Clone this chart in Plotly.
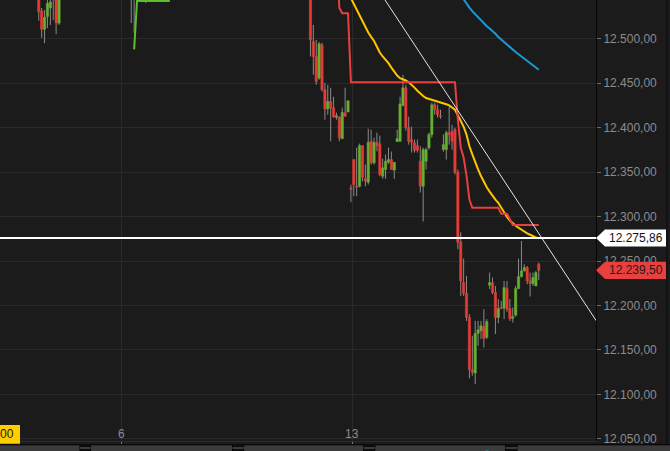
import plotly.graph_objects as go

# ---------------- data ----------------
bar_index = [13, 14, 15, 16, 17, 18, 19, 20, 45, 46, 50] + list(range(107, 187))

open_price = [
    12549.1, 12531.2, 12510.6, 12524.8, 12534.5, 12554.7, 12546.9, 12517.4,
    12565.0, 12560.0, 12550.0,
    12546.9, 12496.7, 12479.9, 12455.7, 12493.0, 12442.6, 12420.9, 12429.4, 12422.4, 12411.5,
    12411.9, 12387.6, 12416.8, 12417.6,
    12332.3, 12364.1, 12334.1, 12334.1, 12379.8, 12342.4, 12338.6, 12384.6, 12360.4, 12383.5,
    12381.7, 12345.3, 12352.9, 12361.0, 12364.1, 12352.1,
    12384.2, 12384.6, 12424.6, 12444.8, 12399.9, 12386.5, 12382.8, 12379.8, 12362.2, 12334.1,
    12362.2, 12377.2, 12392.1, 12425.7, 12420.1, 12413.4, 12375.3, 12375.3, 12394.3, 12395.8,
    12397.7, 12349.8, 12271.3, 12225.8, 12213.4, 12186.5, 12127.8, 12124.1, 12168.6, 12171.5,
    12176.4, 12164.1, 12222.8, 12225.8, 12214.6, 12186.5, 12197.7, 12197.0, 12219.0, 12196.6,
    12185.4, 12189.1, 12219.0, 12232.5, 12238.8, 12242.6, 12227.6, 12224.7, 12222.0, 12246.3,
]
high_price = [
    12550.5, 12534.5, 12532.3, 12545.7, 12546.9, 12557.0, 12549.1, 12552.5,
    12571.5, 12566.0, 12556.0,
    12546.9, 12515.5, 12498.6, 12496.4, 12495.3, 12450.4, 12448.2, 12444.8, 12434.7, 12416.8,
    12412.6, 12422.4, 12444.8, 12430.2,
    12336.0, 12364.1, 12377.5, 12382.0, 12379.8, 12358.5, 12398.8, 12397.7, 12388.7, 12394.3,
    12391.0, 12365.2, 12369.7, 12377.5, 12373.0, 12361.0,
    12397.7, 12434.7, 12459.4, 12448.2, 12412.3, 12401.1, 12386.5, 12386.5, 12379.0, 12377.5,
    12377.5, 12394.3, 12428.0, 12428.0, 12425.7, 12420.1, 12392.1, 12396.6, 12423.5, 12403.3,
    12399.9, 12352.9, 12282.2, 12252.7, 12233.2, 12190.2, 12165.9, 12182.7, 12182.7, 12182.7,
    12195.8, 12184.6, 12237.0, 12231.4, 12222.0, 12207.1, 12205.0, 12227.6, 12227.6, 12207.1,
    12197.7, 12222.0, 12252.7, 12272.5, 12246.3, 12244.4, 12237.0, 12237.0, 12238.8, 12248.2,
]
low_price = [
    12520.3, 12501.2, 12494.9, 12512.1, 12515.5, 12521.1, 12505.0, 12515.5,
    12517.7, 12506.5, 12540.1,
    12479.9, 12459.4, 12448.2, 12453.8, 12440.7, 12408.9, 12414.5, 12384.6, 12411.2, 12408.9,
    12384.6, 12387.1, 12412.6, 12417.6,
    12316.2, 12322.9, 12322.9, 12332.7, 12339.7, 12334.1, 12336.0, 12358.5, 12358.5, 12373.4,
    12345.3, 12342.4, 12342.4, 12359.2, 12352.9, 12342.4,
    12384.2, 12384.6, 12424.6, 12396.6, 12380.9, 12371.9, 12371.9, 12371.9, 12327.0, 12294.5,
    12352.9, 12375.3, 12388.7, 12414.5, 12411.2, 12410.0, 12373.0, 12364.1, 12380.9, 12375.3,
    12347.2, 12263.1, 12210.7, 12210.7, 12182.7, 12118.1, 12121.0, 12111.7, 12154.7, 12162.2,
    12152.9, 12162.2, 12218.3, 12212.7, 12167.8, 12180.1, 12195.8, 12184.6, 12192.8, 12182.7,
    12180.9, 12187.6, 12218.3, 12231.4, 12238.4, 12223.9, 12210.1, 12222.0, 12222.0, 12228.7,
]
close_price = [
    12530.4, 12510.6, 12524.1, 12539.8, 12541.3, 12545.7, 12518.0, 12549.1,
    12556.0, 12552.0, 12548.0,
    12498.6, 12479.9, 12451.9, 12494.2, 12442.6, 12420.9, 12429.4, 12422.0, 12411.9, 12413.4,
    12388.4, 12417.1, 12412.6, 12430.2,
    12330.7, 12336.0, 12333.0, 12379.8, 12344.2, 12339.7, 12383.5, 12361.0, 12383.5, 12379.8,
    12347.2, 12354.8, 12362.2, 12364.1, 12352.9, 12361.0,
    12387.6, 12426.5, 12444.8, 12399.9, 12384.6, 12383.5, 12374.5, 12374.5, 12334.1, 12375.3,
    12375.3, 12392.1, 12425.7, 12420.1, 12414.5, 12412.3, 12380.9, 12394.3, 12392.1, 12384.6,
    12349.8, 12271.0, 12227.6, 12213.4, 12186.5, 12127.8, 12124.8, 12168.6, 12172.6, 12177.1,
    12163.0, 12182.0, 12225.8, 12214.6, 12186.5, 12196.6, 12196.6, 12220.2, 12195.8, 12185.4,
    12187.6, 12219.0, 12232.5, 12238.8, 12242.6, 12227.6, 12224.7, 12231.4, 12237.0, 12239.5,
]

# trailing stop (red, short side) and (green, long side)
stop_red_x = [116, 117, 118, 120, 121, 157, 158, 159, 160, 161, 162, 163, 172, 173, 175, 176, 177, 186]
stop_red_y = [12600.0, 12534.5, 12528.6, 12528.6, 12450.9, 12450.9, 12408.9, 12377.5, 12366.3,
              12346.1, 12319.2, 12309.9, 12309.9, 12303.2, 12303.2, 12296.8, 12290.6, 12290.6]
stop_green_x = [46, 47, 58, 59]
stop_green_y = [12488.0, 12542.4, 12542.4, 12600.0]

# moving averages
ma_fast_x = list(range(120, 187))
ma_fast_y = [
    12552.0, 12545.5, 12539.0, 12532.0, 12525.0, 12519.0, 12513.0, 12507.0, 12502.0, 12497.5,
    12491.0, 12484.5, 12480.0, 12476.5, 12472.5, 12467.5, 12462.5, 12458.5, 12455.5, 12454.5,
    12453.0, 12451.0, 12448.5, 12445.0, 12441.5, 12438.0, 12435.5, 12433.3, 12432.3, 12431.2,
    12430.5, 12429.8, 12429.0, 12427.6, 12426.3, 12425.0, 12422.8, 12420.1, 12414.0, 12408.0,
    12401.0, 12392.0, 12379.0, 12370.0, 12361.0, 12353.0, 12345.5, 12338.5, 12333.0, 12328.0,
    12323.0, 12319.0, 12315.5, 12310.0, 12304.5, 12299.5, 12295.5, 12292.0, 12289.6, 12287.4,
    12285.0, 12282.8, 12281.0, 12279.5, 12277.8, 12276.5, 12275.5,
]
ma_slow_x = list(range(159, 187))
ma_slow_y = [
    12549.0, 12544.0, 12540.0, 12535.0, 12531.0, 12527.5, 12523.5, 12520.0, 12517.0, 12514.0,
    12511.5, 12509.0, 12505.5, 12502.0, 12499.0, 12496.0, 12493.5, 12490.5, 12488.0, 12485.0,
    12482.5, 12480.0, 12477.0, 12474.8, 12472.3, 12470.0, 12467.5, 12465.0,
]

# drawn trend line and horizontal line
trend_x = [132, 206]
trend_y = [12547.5, 12182.3]
hline_level = 12275.86

# x axis (day) ticks
day_tick_pos = [41.5, 121.4]
day_tick_text = ["6", "13"]

# y axis ticks
price_ticks = [12050, 12100, 12150, 12200, 12250, 12300, 12350, 12400, 12450, 12500]

# ---------------- styling ----------------
BG = "#1b1b1b"
GRID = "#2a2a2a"
UP = "#66b032"
DOWN = "#e43c35"
WICK = "#8a8a8a"
X_RANGE = [-0.415, 205.8]
Y_RANGE = [12047.6, 12543.5]
FONT = "Liberation Sans, Arial"


def fmt(v):
    s = f"{v:,.2f}"
    return s.replace(",", "X").replace(".", ",").replace("X", ".")


# wicks (only outside the body)
wx, wy = [], []
for i, o, h, l, c in zip(bar_index, open_price, high_price, low_price, close_price):
    top, bot = max(o, c), min(o, c)
    wx += [i, i, None, i, i, None]
    wy += [h, top, None, bot, l, None]

colors = [UP if c >= o else DOWN for o, c in zip(open_price, close_price)]
bases = [min(o, c) for o, c in zip(open_price, close_price)]
heights = [abs(c - o) for o, c in zip(open_price, close_price)]

fig = go.Figure()
fig.add_trace(go.Bar(x=bar_index, y=heights, base=bases, width=0.78,
                     marker=dict(color=colors, line=dict(color=colors, width=0.6)),
                     hoverinfo="skip"))
fig.add_trace(go.Scatter(x=wx, y=wy, mode="lines", line=dict(color=WICK, width=1),
                         hoverinfo="skip"))
fig.add_trace(go.Scatter(x=ma_slow_x, y=ma_slow_y, mode="lines",
                         line=dict(color="#1e98cf", width=2), hoverinfo="skip"))
fig.add_trace(go.Scatter(x=ma_fast_x, y=ma_fast_y, mode="lines",
                         line=dict(color="#ffc400", width=2), hoverinfo="skip"))
fig.add_trace(go.Scatter(x=stop_green_x, y=stop_green_y, mode="lines",
                         line=dict(color="#5cbf2a", width=2), hoverinfo="skip"))
fig.add_trace(go.Scatter(x=stop_red_x, y=stop_red_y, mode="lines",
                         line=dict(color="#e8403f", width=2), hoverinfo="skip"))
fig.add_trace(go.Scatter(x=trend_x, y=trend_y, mode="lines",
                         line=dict(color="#e6e6e6", width=1), hoverinfo="skip"))

shapes = []
# horizontal line
shapes.append(dict(type="line", xref="paper", yref="y", x0=0, x1=1,
                   y0=hline_level, y1=hline_level, line=dict(color="#ffffff", width=2)))
# price labels (arrow boxes)
last_price = close_price[-1]
half = 9.6
for val, fill in [(hline_level, "#ffffff"), (last_price, "#e8403f")]:
    path = (f"M 1.0 {val} L 1.0151 {val + half} L 1.1174 {val + half} "
            f"L 1.1174 {val - half} L 1.0151 {val - half} Z")
    shapes.append(dict(type="path", xref="paper", yref="y", path=path,
                       fillcolor=fill, line=dict(width=0), layer="above"))
# right panel border line
shapes.append(dict(type="line", xref="paper", yref="paper", x0=1.1191, x1=1.1191,
                   y0=-0.02, y1=1.0, line=dict(color="#0c0c0c", width=1)))
# bottom strip with tabs
PLOT_H = 441.0
PLOT_W = 596.0
shapes.append(dict(type="rect", xref="paper", yref="paper", x0=-0.01, x1=1.15,
                   y0=-3.0 / PLOT_H, y1=-12 / PLOT_H, fillcolor="#0d0d0d", line=dict(width=0),
                   layer="above"))
tabs = [(-2, 80), (90.6, 232.5), (243.6, 363.7), (374.8, 505.6), (517, 690)]
for a, b in tabs:
    shapes.append(dict(type="rect", xref="paper", yref="paper", x0=a / PLOT_W, x1=b / PLOT_W,
                       y0=-3.8 / PLOT_H, y1=-14 / PLOT_H, fillcolor="#3b3b3b",
                       line=dict(color="#050505", width=1), layer="above"))
for (a, b), (c, d) in zip(tabs[:-1], tabs[1:]):
    shapes.append(dict(type="rect", xref="paper", yref="paper", x0=b / PLOT_W, x1=c / PLOT_W,
                       y0=-6.0 / PLOT_H, y1=-8.0 / PLOT_H, fillcolor="#3b3b3b",
                       line=dict(width=0), layer="above"))
shapes.append(dict(type="circle", xref="paper", yref="paper", x0=482 / PLOT_W, x1=492 / PLOT_W,
                   y0=-9.5 / PLOT_H, y1=-19.5 / PLOT_H, fillcolor="#19b39a",
                   line=dict(width=0), layer="above"))
# yellow time box at the left
shapes.append(dict(type="rect", xref="paper", yref="paper", x0=-0.05, x1=20 / PLOT_W,
                   y0=-2.7 / PLOT_H, y1=16 / PLOT_H, fillcolor="#ffcc00",
                   line=dict(width=0), layer="above"))

annotations = [
    dict(xref="paper", yref="y", x=1.018, y=hline_level, text=fmt(hline_level),
         showarrow=False, xanchor="left", yanchor="middle",
         font=dict(family=FONT, size=12, color="#111111")),
    dict(xref="paper", yref="y", x=1.018, y=last_price, text=fmt(last_price),
         showarrow=False, xanchor="left", yanchor="middle",
         font=dict(family=FONT, size=12, color="#1a1a1a")),
    dict(xref="paper", yref="paper", x=-0.003, y=6.7 / PLOT_H, text="00",
         showarrow=False, xanchor="left", yanchor="middle",
         font=dict(family=FONT, size=12, color="#1a1a1a")),
]
# day labels, drawn inside the plot above the bottom edge
for pos, txt in zip(day_tick_pos, day_tick_text):
    annotations.append(dict(xref="x", yref="paper", x=pos, y=7.5 / PLOT_H, text=txt,
                            showarrow=False, xanchor="center", yanchor="middle",
                            font=dict(family=FONT, size=12, color="#8c8c8c")))

fig.update_layout(
    width=670, height=451,
    margin=dict(l=0, r=74, t=0, b=10),
    paper_bgcolor=BG, plot_bgcolor=BG,
    showlegend=False,
    barmode="overlay",
    separators=",.",
    font=dict(family=FONT, size=12, color="#8c8c8c"),
    shapes=shapes,
    annotations=annotations,
    xaxis=dict(range=X_RANGE, tickvals=day_tick_pos, showticklabels=False,
               showgrid=True, gridcolor=GRID, gridwidth=1, zeroline=False,
               ticks="outside", ticklen=2, tickcolor="#777777",
               showline=True, linecolor="#2c2c2c", linewidth=1, fixedrange=True),
    yaxis=dict(range=Y_RANGE, side="right", tickmode="array", tickvals=price_ticks,
               tickformat=",.2f",
               showgrid=True, gridcolor=GRID, gridwidth=1, zeroline=False,
               ticks="outside", ticklen=4, tickcolor="#6a6a6a",
               tickfont=dict(size=12, color="#8c8c8c"),
               showline=True, linecolor="#050505", linewidth=1, fixedrange=True),
)

fig.write_html("out.html", config={"displayModeBar": False},
               post_script="document.body.style.margin='0';document.body.style.background='#1b1b1b';")
